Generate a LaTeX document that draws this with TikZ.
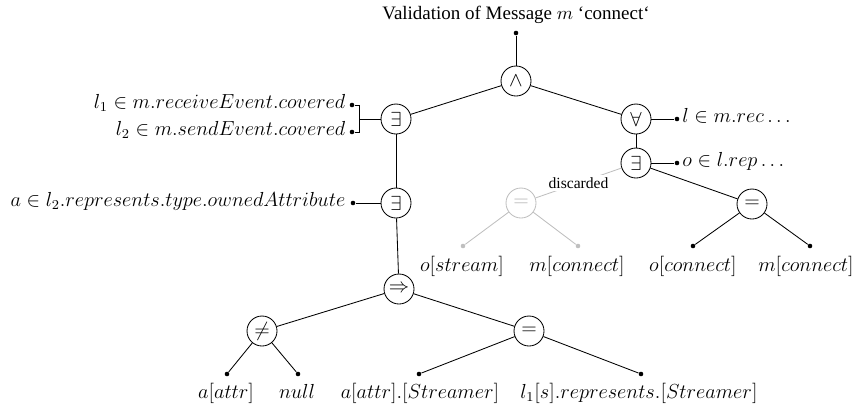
\documentclass[tikz,border=0pt]{standalone}
\usepackage[no-math]{fontspec}
\setmainfont{Liberation Serif}
\newdimen\pxu \pxu=0.59pt
\tikzset{
  op/.style={circle, draw, minimum size=30\pxu, inner sep=0pt,
    font=\fontsize{11.6}{13}\selectfont},
  leaf/.style={circle, fill, inner sep=0pt, minimum size=4.6\pxu},
  lbl/.style={font=\fontsize{11.9}{14}\selectfont, inner sep=0pt},
  faded/.style={draw=black!25, text=black!30},
  fadedleaf/.style={fill=black!25},
  note/.style={font=\fontsize{9.2}{11}\selectfont, fill=white, inner sep=1.5pt},
}
\begin{document}
\begin{tikzpicture}[x=0.59pt, y=-0.59pt, line width=0.5pt]
\useasboundingbox (0,0) rectangle (857,408);

% title and root
\node[font=\fontsize{11.2}{13}\selectfont, anchor=base, inner sep=0pt] (title) at (516,19)
  {Validation of Message $m$ `connect`};
\node[leaf] (top) at (516,33) {};

% operator nodes
\node[op] (and)  at (516,81)  {$\wedge$};
\node[op] (ex1)  at (396,119) {$\exists$};
\node[op] (all)  at (636,119) {$\forall$};
\node[op] (ex3)  at (636,163) {$\exists$};
\node[op] (ex2)  at (396,203) {$\exists$};
\node[op] (impl) at (399,289) {$\Rightarrow$};
\node[op] (neq)  at (262,331) {$\neq$};
\node[op] (eqb)  at (529,331) {$=$};
\node[op, faded] (eqg) at (521,203) {$=$};
\node[op] (eqr)  at (752,204) {$=$};

% quantifier domains
\node[leaf] (d1) at (352,105) {};
\node[leaf] (d2) at (352,132) {};
\node[leaf] (d3) at (353,203) {};
\node[leaf] (d4) at (677,119) {};
\node[leaf] (d5) at (677,163) {};
\node[lbl, anchor=mid east] (t1) at (346,105) {$l_1 \in m.receiveEvent.covered$};
\node[lbl, anchor=mid east] (t2) at (346,132) {$l_2 \in m.sendEvent.covered$};
\node[lbl, anchor=mid east] (t3) at (346,203) {$a \in l_2.represents.type.ownedAttribute$};
\node[lbl, anchor=mid west] (t4) at (682,119) {$l \in m.rec\ldots$};
\node[lbl, anchor=mid west] (t5) at (682,163) {$o \in l.rep\ldots$};
\coordinate (bk) at (359,119);

% operand leaves
\node[leaf, fadedleaf] (g1) at (463,246) {};
\node[leaf, fadedleaf] (g2) at (578,246) {};
\node[leaf] (r1) at (693,246) {};
\node[leaf] (r2) at (810,246) {};
\node[leaf] (b1) at (227,374) {};
\node[leaf] (b2) at (298,374) {};
\node[leaf] (b3) at (419,374) {};
\node[leaf] (b4) at (641,374) {};

\node[lbl, anchor=base] (lg1) at (462,271) {$o[stream]$};
\node[lbl, anchor=base] (lg2) at (577,271) {$m[connect]$};
\node[lbl, anchor=base] (lr1) at (693,271) {$o[connect]$};
\node[lbl, anchor=base] (lr2) at (806,271) {$m[connect]$};
\node[lbl, anchor=base] (lb1) at (226,398) {$a[attr]$};
\node[lbl, anchor=base] (lb2) at (297,398) {$null$};
\node[lbl, anchor=base] (lb3) at (420,398) {$a[attr].[Streamer]$};
\node[lbl, anchor=base] (lb4) at (639,398) {$l_1[s].represents.[Streamer]$};

% tree edges
\draw (top) -- (and);
\draw (and) -- (ex1);
\draw (and) -- (all);
\draw (ex1) -- (ex2);
\draw (ex2) -- (impl);
\draw (impl) -- (neq);
\draw (impl) -- (eqb);
\draw (neq) -- (b1);
\draw (neq) -- (b2);
\draw (eqb) -- (b3);
\draw (eqb) -- (b4);
\draw (all) -- (ex3);
\draw (ex3) -- (eqr);
\draw (eqr) -- (r1);
\draw (eqr) -- (r2);
\draw[black!25] (ex3) -- node[note, text=black] {discarded} (eqg);
\draw[black!25] (eqg) -- (g1);
\draw[black!25] (eqg) -- (g2);

% domain connectors
\draw (d1) -| (bk);
\draw (d2) -| (bk);
\draw (bk) -- (ex1);
\draw (ex2) -- (d3);
\draw (all) -- (d4);
\draw (ex3) -- (d5);
\end{tikzpicture}
\end{document}
